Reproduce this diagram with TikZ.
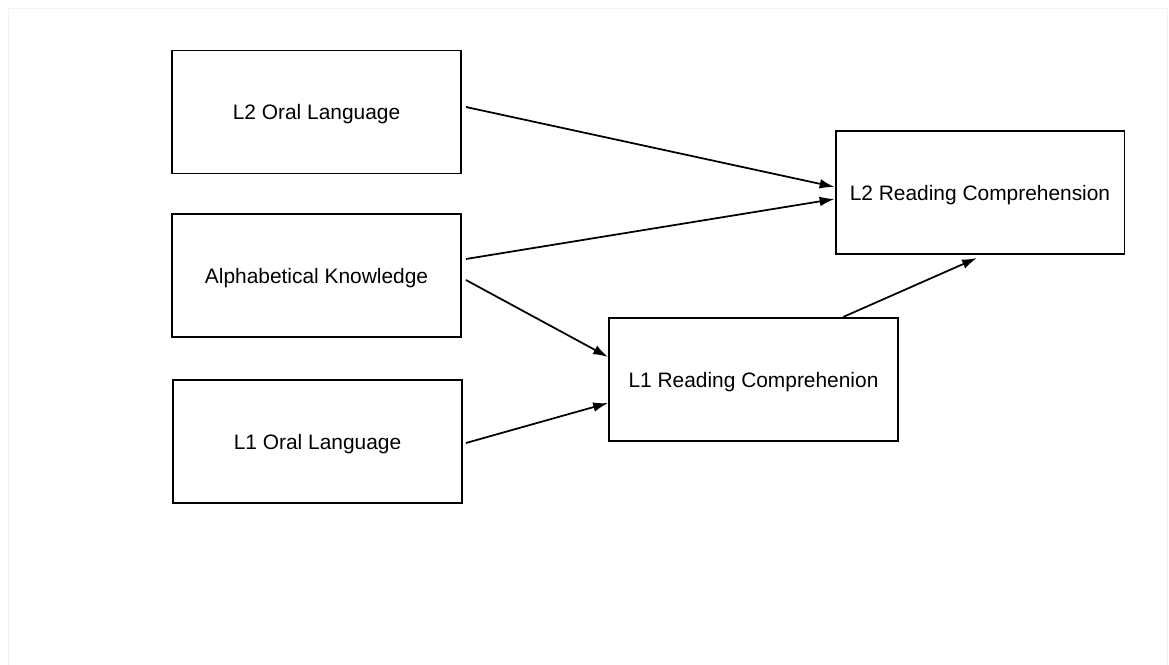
\documentclass[tikz,border=0pt]{standalone}
\usepackage{fontspec}
\setmainfont{Liberation Sans}
\usetikzlibrary{arrows.meta}

\tikzset{
    box/.style={draw, line width=1.1pt, minimum width=5.78cm, minimum height=2.46cm,
        font=\fontsize{11.9}{14}\selectfont, inner sep=0pt, text height=11.5pt, text depth=2.6pt},
    path/.style={line width=1pt, -{Latex[length=8.5pt, width=5.5pt]}}
}

\begin{document}
\begin{tikzpicture}[x=0.02cm, y=-0.02cm]
    % Cornice
    \useasboundingbox (0,0) rectangle (1169,665);
    \draw[gray!10, line width=0.5pt] (8,670) -- (8,8) -- (1167,8) -- (1167,670);

    % Variabili
    \node[box] (l2oral) at (316.5,112) {L2 Oral Language};
    \node[box] (alpha) at (316.5,275.5) {Alphabetical Knowledge};
    \node[box] (l1oral) at (317.5,441.5) {L1 Oral Language};
    \node[box] (l1rc) at (753.5,379.5) {L1 Reading Comprehenion};
    \node[box] (l2rc) at (980,192.5) {L2 Reading Comprehension};

    % Frecce
    \draw[path] ([shift={(4,-5)}]l2oral.east) -- ([shift={(0,-5.5)}]l2rc.west);
    \draw[path] ([shift={(4,-16.5)}]alpha.east) -- ([shift={(0,6.5)}]l2rc.west);
    \draw[path] ([shift={(4,4.5)}]alpha.east) -- ([shift={(0,-22.5)}]l1rc.west);
    \draw[path] ([shift={(3,1.5)}]l1oral.east) -- ([shift={(0,23.5)}]l1rc.west);
    \draw[path] ([shift={(89.5,0)}]l1rc.north) -- ([shift={(-3,3)}]l2rc.south);

\end{tikzpicture}
\end{document}
